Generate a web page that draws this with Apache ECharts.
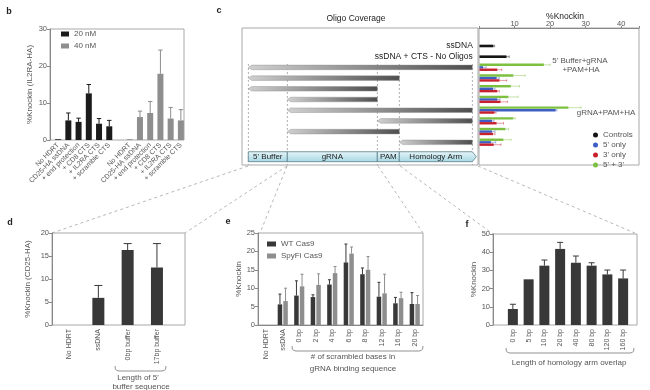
<!DOCTYPE html>
<html><head><meta charset="utf-8">
<script src="https://cdn.jsdelivr.net/npm/echarts@6.0.0/dist/echarts.min.js"></script>
<style>html,body{margin:0;padding:0;background:#fff}#c{width:650px;height:390px}</style>
</head><body><div id="c"></div>
<script>
// ---------- Panel b ----------
const bCategories = ["No HDRT","CD25-HA ssDNA","+ end protection","+ CD8 CTS","+ IL2RA CTS","+ scramble CTS","","No HDRT","CD25-HA ssDNA","+ end protection","+ CD8 CTS","+ IL2RA CTS","+ scramble CTS"];
const b20nM    = [0.2, 5.3, 4.9, 12.6, 4.4, 3.7, '-', '-', '-', '-', '-', '-', '-'];
const b20nMErr = [0.2, 7.3, 5.9, 15.0, 5.8, 5.3, '-', '-', '-', '-', '-', '-', '-'];
const b40nM    = ['-', '-', '-', '-', '-', '-', '-', 0.2, 6.2, 7.3, 17.9, 5.8, 5.3];
const b40nMErr = ['-', '-', '-', '-', '-', '-', '-', 0.2, 7.8, 10.4, 24.3, 8.8, 8.2];

// ---------- Panel c (schematic + %Knockin) ----------
const featureEdges = [0, 39, 129, 151, 224];
const featureNames = ["5' Buffer", "gRNA", "PAM", "Homology Arm"];
const controlNames = ["ssDNA", "ssDNA + CTS - No Oligos"];
const oligoFrom = [0, 0, 0, 1, 1, 2, 1, 3];
const oligoTo   = [4, 3, 2, 2, 4, 4, 3, 4];
const controlKnockin    = [3.9, 7.6];
const controlKnockinErr = [4.4, 8.5];
const fiveOnly     = [1.0, 4.8, 3.8, 5.0, 21.4, 3.5, 3.5, 3.2];
const fiveOnlyErr  = [2.0, 5.7, 4.5, 5.9, 21.9, 4.2, 4.5, 4.7];
const threeOnly    = [5.0, 5.6, 5.0, 5.9, 4.2, 4.8, 3.8, 4.0];
const threeOnlyErr = [6.4, 7.8, 5.7, 8.0, 4.8, 6.9, 4.5, 6.2];
const bothEnds     = [18.1, 9.5, 8.8, 8.1, 25.0, 9.5, 7.3, 6.7];
const bothEndsErr  = [20.0, 13.0, 11.4, 11.0, 28.7, 10.2, 8.3, 9.0];

// ---------- Panel d ----------
const dCategories = ["No HDRT", "ssDNA", "0bp buffer", "17bp buffer"];
const dValues = [0, 5.9, 16.3, 12.5];
const dErr    = [0, 8.6, 17.7, 17.7];

// ---------- Panel e ----------
const eCategories = ["No HDRT","ssDNA","0 bp","2 bp","4 bp","6 bp","8 bp","12 bp","16 bp","20 bp"];
const eWT     = [0, 5.6, 8.0, 7.6, 11.0, 17.0, 13.8, 7.7, 5.9, 5.7];
const eWTErr  = [0, 8.4, 12.0, 8.2, 12.3, 22.0, 15.5, 11.6, 7.5, 8.8];
const eSpy    = [0, 6.5, 10.5, 10.9, 14.1, 19.4, 15.0, 8.6, 7.3, 5.7];
const eSpyErr = [0, 10.0, 13.8, 13.9, 15.9, 21.2, 18.6, 13.8, 8.9, 8.0];

// ---------- Panel f ----------
const fCategories = ["0 bp","5 bp","10 bp","20 bp","40 bp","80 bp","120 bp","160 bp"];
const fValues = [8.8, 25.1, 32.6, 41.8, 34.2, 32.6, 27.8, 25.6];
const fErr    = [11.4, 25.1, 35.7, 45.4, 37.9, 34.2, 30.2, 30.2];

// ================= rendering =================
const FONT = 'Liberation Sans, Arial, sans-serif';
const AX = '#888', BORDER = '#a8a8a8', TXT = '#555';
const DARK = '#383838', BLACK = '#1b1b1b', GRAY = '#8e8e8e';
const C_CTRL = '#151515', C_5 = '#3e5ec6', C_3 = '#c8202c', C_53 = '#7dc040';

function gridBox(left, top, width, height, show) {
  return {left, top, width, height, show: !!show, borderColor: BORDER, borderWidth: 1,
    containLabel: false, outerBoundsMode: 'none'};
}
function hiddenValue(gridIndex, min, max, extra) {
  return Object.assign({type: 'value', gridIndex, min, max, show: false, splitLine: {show: false}}, extra || {});
}
function yShown(gridIndex, min, max, interval, name, nameGap) {
  return {type: 'value', gridIndex, min, max, interval,
    axisLine: {show: true, onZero: false, lineStyle: {color: AX, width: 1}},
    axisTick: {show: true, length: 3, lineStyle: {color: AX}},
    axisLabel: {fontSize: 7.5, color: TXT, fontFamily: FONT, margin: 3},
    splitLine: {show: false},
    name, nameLocation: 'middle', nameRotate: 90, nameGap,
    nameTextStyle: {fontSize: 8, color: TXT, fontFamily: FONT}};
}
function xCat(gridIndex, data, rotate, showLine) {
  return {type: 'category', gridIndex, data,
    axisLine: {show: !!showLine, onZero: false, lineStyle: {color: AX}},
    axisTick: {show: false},
    axisLabel: {interval: 0, rotate, fontSize: 7, color: TXT, fontFamily: FONT, margin: 4, hideOverlap: false},
    splitLine: {show: false}};
}
function errSeries(xi, yi, cats, vals, errs, color, capHalf, offset) {
  const data = [];
  cats.forEach((c, i) => {
    const v = vals[i], e = errs[i];
    if (typeof v === 'number' && typeof e === 'number' && e > v) data.push([i, v, e]);
  });
  return {type: 'custom', xAxisIndex: xi, yAxisIndex: yi, data, silent: true, z: 3,
    itemStyle: {color},
    renderItem: (params, api) => {
      const p0 = api.coord([api.value(0), api.value(1)]);
      const p1 = api.coord([api.value(0), api.value(2)]);
      const cx = p0[0] + offset;
      const st = {stroke: color, lineWidth: 1};
      return {type: 'group', children: [
        {type: 'line', shape: {x1: cx, y1: p0[1], x2: cx, y2: p1[1]}, style: st},
        {type: 'line', shape: {x1: cx - capHalf, y1: p1[1], x2: cx + capHalf, y2: p1[1]}, style: st}
      ]};
    }};
}
function hbarSeries(name, color, values, errs, rows, offset, h) {
  const data = values.map((v, i) => [v, rows[i], errs[i]]);
  return {type: 'custom', name, xAxisIndex: 3, yAxisIndex: 3, data, itemStyle: {color}, color, z: 3,
    renderItem: (params, api) => {
      const row = api.value(1) + offset;
      const p0 = api.coord([0, row]), p1 = api.coord([api.value(0), row]), pe = api.coord([api.value(2), row]);
      const est = {stroke: color, lineWidth: 0.8, opacity: 0.55};
      return {type: 'group', children: [
        {type: 'rect', shape: {x: p0[0] + 0.5, y: p0[1] - h / 2, width: p1[0] - p0[0], height: h}, style: {fill: color}},
        {type: 'line', shape: {x1: p1[0], y1: p1[1], x2: pe[0], y2: pe[1]}, style: est},
        {type: 'line', shape: {x1: pe[0], y1: pe[1] - 1.3, x2: pe[0], y2: pe[1] + 1.3}, style: est}
      ]};
    }};
}
function txt(text, x, y, o) {
  o = o || {};
  const al = o.align || 'center';
  return {type: 'text', x, y, silent: true, style: {text, fill: o.color || '#333', fontSize: o.size || 8,
    fontFamily: FONT, fontWeight: o.weight || 'normal', align: al, textAlign: al,
    verticalAlign: 'middle', textVerticalAlign: 'middle'}};
}
function dash(x1, y1, x2, y2) {
  return {type: 'line', silent: true, shape: {x1, y1, x2, y2}, style: {stroke: '#a5a5a5', lineWidth: 0.8, lineDash: [3, 3]}};
}
function bracket(x1, x2, yTop, yBot) {
  const pts = [[x1, yTop], [x1 + 0.4, yBot - 2], [x1 + 1.6, yBot - 0.6], [x1 + 4, yBot],
               [x2 - 4, yBot], [x2 - 1.6, yBot - 0.6], [x2 - 0.4, yBot - 2], [x2, yTop]];
  return {type: 'polyline', silent: true, shape: {points: pts},
    style: {stroke: '#777', lineWidth: 0.8, fill: null}};
}

const ROW_MIN = -0.68, ROW_MAX = 12.12;
const groupRows = bothEnds.map((v, i) => i + 3);
const ctrlRows = controlKnockin.map((v, i) => i + 1);

const option = {
  animation: false,
  backgroundColor: '#fff',
  textStyle: {fontFamily: FONT},
  grid: [
    gridBox(50, 29, 134, 111, true),     // 0 b frame
    gridBox(53, 29, 133, 111, false),    // 1 b data
    gridBox(242, 28, 236, 137, true),    // 2 c schematic
    gridBox(479, 28, 160, 137, true),    // 3 c knockin
    gridBox(52, 233, 133, 92, true),     // 4 d frame
    gridBox(54.4, 233, 117.2, 92, false),// 5 d data
    gridBox(258, 233, 165, 92, true),    // 6 e
    gridBox(493, 234, 144, 91, true),    // 7 f frame
    gridBox(505, 234, 126, 91, false)    // 8 f data
  ],
  xAxis: [
    hiddenValue(0, 0, 1),
    xCat(1, bCategories, 45, false),
    hiddenValue(2, -6.3, 229.7),
    {type: 'value', gridIndex: 3, position: 'top', min: 0, max: 45, interval: 10,
      axisLine: {show: true, onZero: false, lineStyle: {color: AX}},
      axisTick: {show: true, length: 2, lineStyle: {color: AX}},
      axisLabel: {fontSize: 7.5, color: TXT, fontFamily: FONT, margin: 0,
        formatter: v => (v === 0 || v === 45) ? '' : String(v)},
      splitLine: {show: false}},
    hiddenValue(4, 0, 1),
    xCat(5, dCategories, 90, false),
    xCat(6, eCategories, 90, true),
    hiddenValue(7, 0, 1),
    xCat(8, fCategories, 90, false)
  ],
  yAxis: [
    yShown(0, 0, 30, 10, '%Knockin (IL2RA-HA)', 16),
    hiddenValue(1, 0, 30),
    hiddenValue(2, ROW_MIN, ROW_MAX, {inverse: true}),
    hiddenValue(3, ROW_MIN, ROW_MAX, {inverse: true}),
    yShown(4, 0, 20, 5, '%Knockin (CD25-HA)', 20),
    hiddenValue(5, 0, 20),
    yShown(6, 0, 25, 5, '%Knockin', 12),
    yShown(7, 0, 50, 10, '%Knockin', 11),
    hiddenValue(8, 0, 50)
  ],
  legend: [
    {data: ['20 nM', '40 nM'], left: 61, top: 30, orient: 'vertical', icon: 'rect', itemWidth: 8, itemHeight: 5,
      itemGap: 4, padding: 0, textStyle: {fontSize: 8, color: TXT, fontFamily: FONT}, selectedMode: false},
    {data: ['WT Cas9', 'SpyFi Cas9'], left: 267, top: 240, orient: 'vertical', icon: 'rect', itemWidth: 9, itemHeight: 5,
      itemGap: 4, padding: 0, textStyle: {fontSize: 8, color: TXT, fontFamily: FONT}, selectedMode: false},
    {data: ['Controls', "5' only", "3' only", "5' + 3'"], left: 593, top: 131, orient: 'vertical', icon: 'circle',
      itemWidth: 5, itemHeight: 5, itemGap: 2, padding: 0, textStyle: {fontSize: 8, color: TXT, fontFamily: FONT},
      selectedMode: false}
  ],
  series: [
    // b
    {type: 'bar', name: '20 nM', xAxisIndex: 1, yAxisIndex: 1, data: b20nM, barWidth: 6, barGap: '-100%', itemStyle: {color: BLACK}},
    {type: 'bar', name: '40 nM', xAxisIndex: 1, yAxisIndex: 1, data: b40nM, barWidth: 6, barGap: '-100%', itemStyle: {color: GRAY}},
    errSeries(1, 1, bCategories, b20nM, b20nMErr, BLACK, 2.2, 0),
    errSeries(1, 1, bCategories, b40nM, b40nMErr, GRAY, 2.2, 0),
    // c schematic: dashed boundaries
    {type: 'custom', xAxisIndex: 2, yAxisIndex: 2, silent: true, z: 1, data: featureEdges.map(e => [e]),
      renderItem: (params, api) => {
        const a = api.coord([api.value(0), 2.68]), b = api.coord([api.value(0), ROW_MAX]);
        return {type: 'line', shape: {x1: a[0], y1: a[1], x2: b[0], y2: b[1]}, style: {stroke: '#9a9a9a', lineWidth: 0.8, lineDash: [2, 2]}};
      }},
    // c schematic: oligo arrows
    {type: 'custom', xAxisIndex: 2, yAxisIndex: 2, silent: true, z: 2,
      data: oligoFrom.map((f, i) => [featureEdges[f], featureEdges[oligoTo[i]], i + 3]),
      renderItem: (params, api) => {
        const row = api.value(2);
        const a = api.coord([api.value(0), row]), b = api.coord([api.value(1), row]);
        const h = 4.6, tip = 3.5;
        return {type: 'polygon', shape: {points: [[a[0], a[1]], [a[0] + tip, a[1] - h / 2], [b[0], b[1] - h / 2], [b[0], b[1] + h / 2], [a[0] + tip, a[1] + h / 2]]},
          style: {fill: {type: 'linear', x: 0, y: 0, x2: 1, y2: 0, colorStops: [{offset: 0, color: '#d0d0d0'}, {offset: 1, color: '#4e4e4e'}]},
            stroke: '#8a8a8a', lineWidth: 0.4}};
      }},
    // c schematic: feature bar
    {type: 'custom', xAxisIndex: 2, yAxisIndex: 2, silent: true, z: 2,
      data: featureNames.map((n, i) => [featureEdges[i], featureEdges[i + 1], i]),
      renderItem: (params, api) => {
        const i = api.value(2);
        const tl = api.coord([api.value(0), 10.88]), br = api.coord([api.value(1), 11.81]);
        const last = i === featureNames.length - 1;
        const midY = (tl[1] + br[1]) / 2;
        const pts = last
          ? [[tl[0], tl[1]], [br[0], tl[1]], [br[0] + 4, midY], [br[0], br[1]], [tl[0], br[1]]]
          : [[tl[0], tl[1]], [br[0], tl[1]], [br[0], br[1]], [tl[0], br[1]]];
        return {type: 'group', children: [
          {type: 'polygon', shape: {points: pts},
            style: {fill: {type: 'linear', x: 0, y: 0, x2: 0, y2: 1, colorStops: [{offset: 0, color: '#e6f5f9'}, {offset: 1, color: '#a6d8e3'}]},
              stroke: '#5c7f89', lineWidth: 0.8}},
          {type: 'text', x: (tl[0] + br[0]) / 2, y: midY + 0.5,
            style: {text: featureNames[i], fill: '#222', fontSize: 8, fontFamily: FONT, align: 'center', textAlign: 'center', verticalAlign: 'middle', textVerticalAlign: 'middle'}}
        ]};
      }},
    // c schematic: control labels
    {type: 'custom', xAxisIndex: 2, yAxisIndex: 2, silent: true, z: 2,
      data: controlNames.map((n, i) => [featureEdges[featureEdges.length - 1], i + 1]),
      renderItem: (params, api) => {
        const p = api.coord([api.value(0), api.value(1)]);
        return {type: 'text', x: p[0] + 0.5, y: p[1],
          style: {text: controlNames[params.dataIndex], fill: '#222', fontSize: 8.5, fontFamily: FONT, fontWeight: 500,
            align: 'right', textAlign: 'right', verticalAlign: 'middle', textVerticalAlign: 'middle'}};
      }},
    // c knockin bars
    hbarSeries('Controls', C_CTRL, controlKnockin, controlKnockinErr, ctrlRows, 0, 2.6),
    hbarSeries("5' + 3'", C_53, bothEnds, bothEndsErr, groupRows, -0.24, 2.4),
    hbarSeries("5' only", C_5, fiveOnly, fiveOnlyErr, groupRows, 0, 2.4),
    hbarSeries("3' only", C_3, threeOnly, threeOnlyErr, groupRows, 0.22, 2.4),
    // d
    {type: 'bar', name: 'd', xAxisIndex: 5, yAxisIndex: 5, data: dValues, barWidth: 12, itemStyle: {color: DARK}},
    errSeries(5, 5, dCategories, dValues, dErr, DARK, 4, 0),
    // e
    {type: 'bar', name: 'WT Cas9', xAxisIndex: 6, yAxisIndex: 6, data: eWT, barWidth: 4.5, barGap: '25%', itemStyle: {color: DARK}},
    {type: 'bar', name: 'SpyFi Cas9', xAxisIndex: 6, yAxisIndex: 6, data: eSpy, barWidth: 4.5, barGap: '25%', itemStyle: {color: GRAY}},
    errSeries(6, 6, eCategories, eWT, eWTErr, DARK, 1.5, -2.8),
    errSeries(6, 6, eCategories, eSpy, eSpyErr, GRAY, 1.5, 2.8),
    // f
    {type: 'bar', name: 'f', xAxisIndex: 8, yAxisIndex: 8, data: fValues, barWidth: 10, itemStyle: {color: DARK}},
    errSeries(8, 8, fCategories, fValues, fErr, DARK, 3, 0)
  ],
  graphic: {elements: [
    txt('b', 9, 12, {weight: 'bold', size: 9, color: '#222'}),
    txt('c', 219, 11, {weight: 'bold', size: 9, color: '#222'}),
    txt('d', 10, 223, {weight: 'bold', size: 9, color: '#222'}),
    txt('e', 228, 222, {weight: 'bold', size: 9, color: '#222'}),
    txt('f', 467, 225, {weight: 'bold', size: 9, color: '#222'}),
    txt('Oligo Coverage', 356, 19, {size: 8.5, color: '#222'}),
    txt('%Knockin', 565, 17, {size: 8.5, color: '#222'}),
    txt("5' Buffer+gRNA", 580, 61, {size: 8, color: TXT}),
    txt('+PAM+HA', 581, 70, {size: 8, color: TXT}),
    txt('gRNA+PAM+HA', 606, 113, {size: 8, color: TXT}),
    bracket(115, 166, 366, 371),
    txt("Length of 5'", 138, 378, {size: 8, color: TXT}),
    txt('buffer sequence', 141, 386.5, {size: 8, color: TXT}),
    bracket(292, 423, 346, 351),
    txt('# of scrambled bases in', 353, 357, {size: 8, color: TXT}),
    txt('gRNA binding sequence', 353, 369, {size: 8, color: TXT}),
    bracket(506, 634, 348, 353),
    txt('Length of homology arm overlap', 569, 363, {size: 8, color: TXT}),
    dash(248, 166, 52, 233),
    dash(287, 166, 185, 233),
    dash(287, 166, 260, 233),
    dash(378, 166, 423, 233),
    dash(400, 166, 493, 234),
    dash(478, 166, 637, 234)
  ]}
};
echarts.init(document.getElementById('c'), null, {renderer: 'canvas'}).setOption(option);
</script>
</body></html>
